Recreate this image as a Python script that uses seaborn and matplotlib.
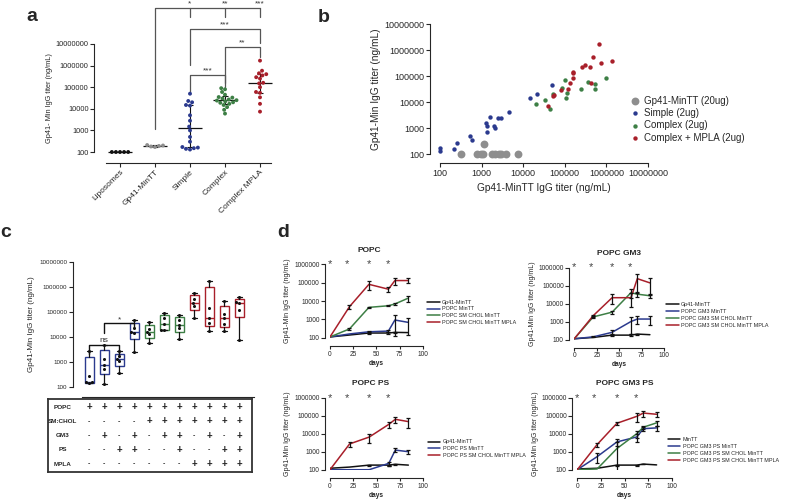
import numpy as np
import pandas as pd
import matplotlib
matplotlib.use("Agg")
import matplotlib.pyplot as plt
from matplotlib.ticker import FixedLocator, FuncFormatter, NullLocator
import seaborn as sns

sns.set_style("ticks")
plt.rcParams['font.family'] = ['Liberation Sans', 'DejaVu Sans']
plt.rcParams['axes.linewidth'] = 0.8

FIG_W, FIG_H = 787, 499

BLUE = '#2b3a8e'
GREEN = '#3d7f45'
RED = '#a81f2a'
GRAY = '#8e8e8e'
BLACK = '#111111'

# ---------------- panel a
a_groups = ['Liposomes', 'Gp41-MinTT', 'Simple', 'Complex', 'Complex MPLA']
a_liposomes = [100, 100, 100, 100, 100]
a_minTT = [170, 180, 190, 200, 210]
a_simple = [130, 140, 150, 160, 170, 300, 500, 1000, 1500, 2800, 5000,
            14000, 15000, 20000, 23000, 50000]
a_complex = [6000, 9000, 12000, 15000, 17000, 19000, 20000, 22000, 24000,
             25000, 27000, 30000, 33000, 35000, 45000, 60000, 80000, 90000]
a_mpla = [7400, 17000, 34000, 55000, 60000, 100000, 150000, 160000, 250000,
          290000, 350000, 400000, 440000, 580000, 1700000]
a_colors = [BLACK, GRAY, BLUE, GREEN, RED]
# (left, right, line level, left end, right end, label)
a_brackets = [(2, 4, 4.9e7, 1.07e6, 1.1e7, '***'),
              (3, 4, 7.2e6, 1.55e5, 2.5e6, '**'),
              (2, 3, 3.6e5, 6e4, 1e5, '***')]
a_vs_minTT = ['*', '**', '***']

# ---------------- panel b
b_minTT_x = [315, 770, 960, 1100, 1150, 1800, 2150, 2600, 3000, 3900, 7300]
b_minTT_y = [100, 100, 100, 100, 240, 100, 100, 100, 100, 100, 100]
b_simple_x = [100, 100, 217, 252, 530, 600, 1600, 1280, 1380, 1380, 2000,
              2150, 2500, 2850, 4600, 14800, 22000, 49000]
b_simple_y = [165, 130, 150, 272, 495, 340, 2600, 1500, 1200, 700, 1200,
              1000, 2350, 2500, 4250, 14200, 21000, 46000]
b_complex_x = [20000, 33000, 43000, 53000, 85000, 100000, 106000, 110000,
               240000, 370000, 520000, 530000, 1000000]
b_complex_y = [8400, 12000, 5200, 20000, 36000, 71000, 14200, 23000, 31000,
               60000, 48000, 31000, 81000]
b_mpla_x = [39000, 51000, 55000, 83000, 117000, 135000, 158000, 158000,
            160000, 260000, 300000, 400000, 470000, 430000, 740000, 680000,
            1400000]
b_mpla_y = [7100, 17000, 18500, 28000, 31000, 55000, 81000, 126000, 140000,
            215000, 270000, 230000, 550000, 52000, 330000, 1660000, 390000]
b_labels = ['Gp41-MinTT (20ug)', 'Simple (2ug)', 'Complex (2ug)',
            'Complex + MPLA (2ug)']

# ---------------- panel c
c_titers = [[150, 160, 170, 290, 2800],
            [135, 520, 770, 1300, 4900],
            [360, 1100, 1300, 1700, 2700],
            [2500, 15000, 15500, 22000, 48000],
            [5600, 13000, 15500, 20000, 39000],
            [19000, 19500, 33000, 60000, 89000],
            [8500, 22000, 31000, 50000, 76000],
            [56000, 180000, 235000, 340000, 590000],
            [18000, 35000, 56000, 150000, 1770000],
            [18000, 32000, 56000, 80000, 275000],
            [7600, 115000, 225000, 250000, 410000]]
c_colors = [BLUE] * 4 + [GREEN] * 3 + [RED] * 4
c_rows = ['POPC', 'SM:CHOL', 'GM3', 'PS', 'MPLA']
c_table = ['+++++++++++',
           '----+++++++',
           '-+-+-++-+-+',
           '--++--+--++',
           '-------++++']

# ---------------- panel d
d_days = [0, 21, 42, 63, 70, 84]
d_star_days = [0, 18, 42, 62]
d_colors = [BLACK, BLUE, GREEN, RED]

d1_names = ['Gp41-MinTT', 'POPC MinTT', 'POPC SM CHOL MinTT',
            'POPC SM CHOL MinTT MPLA']
d1_mean = [[110, 140, 180, 180, 195, 190],
           [110, 160, 210, 230, 920, 690],
           [110, 300, 4500, 5500, 6900, 14000],
           [110, 4900, 81000, 44000, 130000, 130000]]
d1_sem = [[0, 0, 20, 20, 15, 0],
          [0, 0, 20, 30, 800, 550],
          [0, 30, 300, 400, 1000, 5000],
          [0, 1000, 40000, 12000, 60000, 40000]]

d2_names = ['Gp41-MinTT', 'POPC GM3 MinTT', 'POPC GM3 SM CHOL MinTT',
            'POPC GM3 SM CHOL MinTT MPLA']
d2_mean = [[110, 130, 175, 175, 200, 185],
           [110, 140, 250, 1000, 1370, 1370],
           [110, 1800, 3300, 40000, 33000, 27000],
           [110, 2100, 21000, 21000, 240000, 140000]]
d2_sem = [[0, 0, 20, 20, 15, 0],
          [0, 10, 80, 800, 600, 700],
          [0, 300, 600, 20000, 10000, 8000],
          [0, 300, 12000, 15000, 200000, 110000]]

d3_names = ['Gp41-MinTT', 'POPC PS MinTT', 'POPC PS SM CHOL MinTT MPLA']
d3_mean = [[120, 140, 180, 180, 200, 180],
           [100, 100, 100, 225, 1230, 1000],
           [100, 2700, 6500, 33000, 63000, 47000]]
d3_sem = [[0, 0, 10, 10, 10, 0],
          [0, 0, 0, 60, 300, 250],
          [0, 800, 3500, 13000, 22000, 25000]]

d4_names = ['MinTT', 'POPC GM3 PS MinTT', 'POPC GM3 PS SM CHOL MinTT',
            'POPC GM3 PS SM CHOL MinTT MPLA']
d4_mean = [[110, 120, 180, 180, 205, 185],
           [100, 530, 3500, 6600, 19000, 21000],
           [100, 110, 1500, 10000, 23000, 40000],
           [100, 2500, 38000, 92000, 140000, 120000]]
d4_sem = [[0, 0, 10, 10, 10, 0],
          [0, 300, 1500, 3000, 5000, 6000],
          [0, 0, 1800, 4000, 5000, 12000],
          [0, 600, 8000, 50000, 50000, 40000]]


fig = plt.figure(figsize=(FIG_W / 100, FIG_H / 100), dpi=100)


def add_ax(x0, y0, x1, y1):
    return fig.add_axes([x0 / FIG_W, 1 - y1 / FIG_H,
                         (x1 - x0) / FIG_W, (y1 - y0) / FIG_H])


def log_ticks(ax, lo, hi, size, axis='y'):
    ticks = [10.0 ** e for e in range(lo, hi + 1)]
    target = ax.yaxis if axis == 'y' else ax.xaxis
    target.set_major_locator(FixedLocator(ticks))
    target.set_minor_locator(NullLocator())
    target.set_major_formatter(FuncFormatter(lambda v, p: f"{v:.0f}"))
    ax.tick_params(axis=axis, labelsize=size, length=3, width=0.8, pad=1)


def offset_spines(ax, left, bottom):
    sns.despine(ax=ax)
    ax.spines['left'].set_position(('outward', left))
    ax.spines['bottom'].set_position(('outward', bottom))


# ================= panel a
ax = add_ax(102.5, 44, 277.5, 152)
ax.set_yscale('log')
ax.set_ylim(100, 1e7)
a_sets = [a_liposomes, a_minTT, a_simple, a_complex, a_mpla]
df_a = pd.DataFrame({'group': np.repeat(a_groups, [len(v) for v in a_sets]),
                     'titer': np.concatenate(a_sets)})
sns.swarmplot(data=df_a, x='group', y='titer', hue='group', order=a_groups,
              palette=dict(zip(a_groups, a_colors)), size=2.8, ax=ax,
              legend=False, clip_on=False, linewidth=0)
for i, vals in enumerate(a_sets):
    q1, med, q3 = np.percentile(vals, [25, 50, 75], method='weibull')
    ax.hlines(med, i - 0.33, i + 0.33, color=BLACK, lw=0.9, clip_on=False)
    if q3 > q1:
        ax.errorbar(i, med, yerr=[[med - q1], [q3 - med]], color=BLACK,
                    lw=0.8, capsize=2.5, capthick=0.8, clip_on=False)
ax.set_xlim(-0.5, 4.5)
ax.set_ylim(100, 1e7)
log_ticks(ax, 2, 7, 5.3)
offset_spines(ax, 6, 8)
ax.spines['left'].set_bounds(100, 1e7)
ax.spines['bottom'].set_bounds(-0.4, 4.3)
ax.tick_params(axis='x', length=3, width=0.8, labelsize=6, pad=1)
ax.set_xticks(range(len(a_groups)))
ax.set_xticklabels(a_groups, rotation=45, ha='right', rotation_mode='anchor')
ax.set_xlabel('')
ax.set_ylabel('Gp41- Min IgG titer (ng/mL)', fontsize=5.3, labelpad=2)

br_kw = dict(color='#555555', lw=0.9, clip_on=False)
top_line, top_drop = 4.6e8, 1.8e8
ax.plot([1, 1, 4], [1160, top_line, top_line], **br_kw)
for k, lab in enumerate(a_vs_minTT):
    ax.plot([k + 2, k + 2], [top_line, top_drop], **br_kw)
    ax.annotate(lab, (k + 2, top_line), xytext=(0, 0.5),
                textcoords='offset points', ha='center', va='bottom',
                fontsize=6, color='#333333', annotation_clip=False)
for x1, x2, yl, ya, yb, lab in a_brackets:
    ax.plot([x1, x1, x2, x2], [ya, yl, yl, yb], **br_kw)
    ax.annotate(lab, ((x1 + x2) / 2, yl), xytext=(0, 0.5),
                textcoords='offset points', ha='center', va='bottom',
                fontsize=6, color='#333333', annotation_clip=False)

# ================= panel b
ax = add_ax(440, 24, 648, 154)
ax.set_xscale('log')
ax.set_yscale('log')
b_sets = [(b_minTT_x, b_minTT_y, GRAY, 32),
          (b_simple_x, b_simple_y, BLUE, 10),
          (b_complex_x, b_complex_y, GREEN, 10),
          (b_mpla_x, b_mpla_y, RED, 10)]
for (xs, ys, col, s), lab in zip(b_sets, b_labels):
    sns.scatterplot(x=xs, y=ys, color=col, s=s, linewidth=0, ax=ax,
                    label=lab, clip_on=False)
ax.set_xlim(100, 1e7)
ax.set_ylim(100, 1e7)
log_ticks(ax, 2, 7, 6.5)
log_ticks(ax, 2, 7, 6.5, axis='x')
offset_spines(ax, 7, 6.5)
ax.set_ylabel('Gp41-Min IgG titer (ng/mL)', fontsize=7.3, labelpad=3)
ax.set_xlabel('Gp41-MinTT IgG titer (ng/mL)', fontsize=7.3, labelpad=4)
ax.legend(loc='upper left', bbox_to_anchor=(0.915, 0.45), frameon=False,
          fontsize=7, borderpad=0, handlelength=1, handletextpad=0.4,
          labelspacing=0.25, borderaxespad=0)

# ================= panel c
ax = add_ax(81.8, 261.7, 254.3, 387.3)
ax.set_yscale('log')
stats = []
for vals in c_titers:
    q1, med, q3 = np.percentile(vals, [25, 50, 75], method='weibull')
    stats.append(dict(med=med, q1=q1, q3=q3, whislo=min(vals),
                      whishi=max(vals), fliers=[]))
bp = ax.bxp(stats, positions=range(len(c_titers)), widths=0.6,
            patch_artist=True, showfliers=False, capwidths=0.35)
for k, col in enumerate(c_colors):
    bp['boxes'][k].set(facecolor='white', edgecolor=col, lw=1.0)
    bp['medians'][k].set(color=col, lw=1.0)
for ln in bp['whiskers'] + bp['caps']:
    ln.set(color=BLACK, lw=0.9)
box_ids = [str(k) for k in range(len(c_titers))]
df_c = pd.DataFrame({'box': np.repeat(box_ids, [len(v) for v in c_titers]),
                     'titer': np.concatenate(c_titers)})
sns.swarmplot(data=df_c, x='box', y='titer', order=box_ids, color=BLACK,
              size=2.2, ax=ax, zorder=5)
ax.set_xlim(-0.5, 11.0)
ax.set_ylim(100, 1e7)
log_ticks(ax, 2, 7, 4.5)
offset_spines(ax, 6.5, 7)
ax.spines['left'].set_bounds(100, 1e7)
ax.set_xticks([])
ax.set_xlabel('')
ax.set_ylabel('Gp41-Min IgG titer (ng/mL)', fontsize=5.8, labelpad=3)
for x1, x2, yl, ya, yb, lab in [(0, 2, 5000, 2200, 1600, 'ns'),
                                (1, 3, 35000, 15000, 24000, '*')]:
    ax.plot([x1, x1, x2, x2], [ya, yl, yl, yb], color=BLACK, lw=1.0,
            clip_on=False)
    ax.annotate(lab, ((x1 + x2) / 2, yl), xytext=(0, 0.3),
                textcoords='offset points', ha='center', va='bottom',
                fontsize=6, color='#333333')

# table under panel c
tx = add_ax(48, 399, 252, 471.7)
tx.set_xlim(-2.75, 10.85)
tx.set_ylim(4.54, -0.58)
tx.set_xticks([])
tx.set_yticks([])
for sp in tx.spines.values():
    sp.set(lw=1.3, color='#333333')
for r, (name, signs) in enumerate(zip(c_rows, c_table)):
    tx.text(-1.75, r, name, ha='center', va='center', fontsize=4.6,
            fontweight='bold')
    for k, sgn in enumerate(signs):
        tx.text(k, r, sgn, ha='center', va='center',
                fontsize=7 if sgn == '+' else 5, fontweight='bold')

# ================= panel d
def timecourse(box, title, names, means, sems, leg_anchor, title_x=0.5):
    ax = add_ax(*box)
    ax.set_yscale('log')
    rows = []
    for name, vals in zip(names, means):
        for day, v in zip(d_days, vals):
            rows.append((name, day, v))
    df = pd.DataFrame(rows, columns=['series', 'day', 'titer'])
    cols = d_colors if len(names) == 4 else [BLACK, BLUE, RED]
    sns.lineplot(data=df, x='day', y='titer', hue='series', hue_order=names,
                 palette=cols, lw=1.1, ax=ax, errorbar=None)
    for vals, err in zip(means, sems):
        v = np.array(vals, float)
        e = np.array(err, float)
        m = e > 0
        lo = np.minimum(e, v - 10)
        ax.errorbar(np.array(d_days)[m], v[m], yerr=[lo[m], e[m]],
                    fmt='none', ecolor=BLACK, elinewidth=0.9, capsize=1.6,
                    capthick=0.9, zorder=4)
    for day in d_star_days:
        ax.text(day, 1e6, '*', ha='center', va='center', fontsize=8,
                color='#444444')
    ax.set_xlim(0, 100)
    ax.set_ylim(100, 1e6)
    log_ticks(ax, 2, 6, 4.7)
    ax.set_xticks([0, 25, 50, 75, 100])
    ax.tick_params(axis='x', labelsize=4.7, length=2.5, width=0.8, pad=1)
    offset_spines(ax, 3.5, 5.8)
    ax.set_xlabel('days', fontsize=4.7, fontweight='bold', labelpad=1.5)
    ax.set_ylabel('Gp41-Min IgG titer (ng/mL)', fontsize=5, labelpad=2)
    ax.set_title(title, fontsize=6, fontweight='bold', pad=9, x=title_x)
    h, l = ax.get_legend_handles_labels()
    ax.legend(h, l, loc='upper left', bbox_to_anchor=leg_anchor,
              frameon=False, fontsize=3.9, borderpad=0, borderaxespad=0,
              handlelength=2.3, handletextpad=0.4, labelspacing=0.35)
    return ax


timecourse((330, 264.3, 422.7, 337.7), 'POPC', d1_names, d1_mean, d1_sem,
           (1.05, 0.52), title_x=0.42)
timecourse((574.3, 267.5, 664.3, 339.5), 'POPC GM3', d2_names, d2_mean,
           d2_sem, (1.02, 0.52))
timecourse((330, 397.7, 423.3, 469.7), 'POPC PS', d3_names, d3_mean, d3_sem,
           (1.05, 0.42), title_x=0.44)
timecourse((577.3, 397.7, 671.7, 469.7), 'POPC GM3 PS', d4_names, d4_mean,
           d4_sem, (0.96, 0.45))

# panel letters
for lab, x, y in [('a', 26, 21), ('b', 318, 22), ('c', 0, 237),
                  ('d', 277, 237)]:
    fig.text(x / FIG_W, 1 - y / FIG_H, lab, fontsize=14, fontweight='bold',
             ha='left', va='baseline')

fig.savefig('out.png', dpi=100)
